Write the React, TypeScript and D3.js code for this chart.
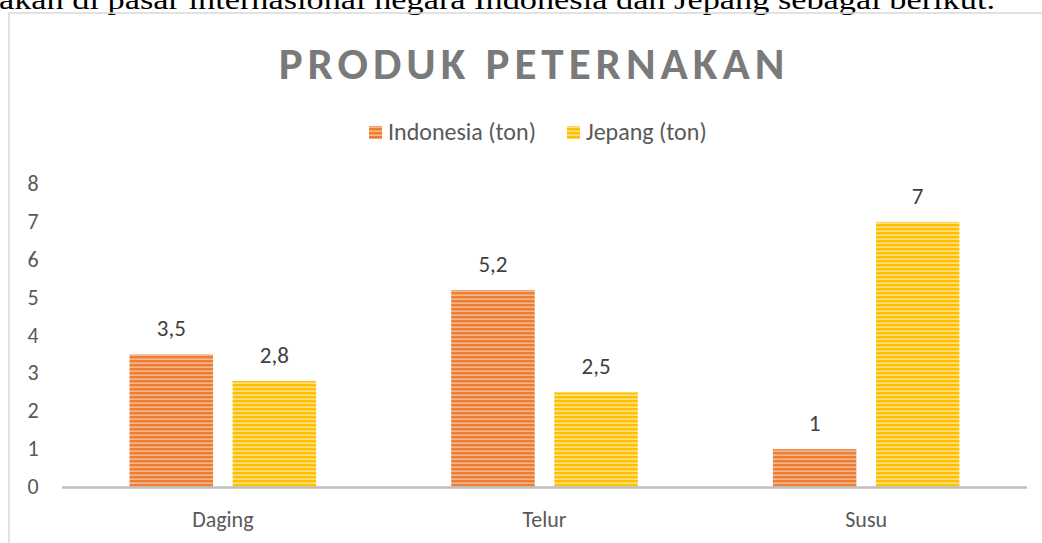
import React from "react";
import * as d3 from "d3";

const categories = ["Daging", "Telur", "Susu"];
const seriesNames = ["Indonesia (ton)", "Jepang (ton)"];
const indonesia = [3.5, 5.2, 1];
const jepang = [2.8, 2.5, 7];
const yTicks = [0, 1, 2, 3, 4, 5, 6, 7, 8];

const W = 1042;
const H = 543;

export default function App() {
  const x = d3.scaleBand<string>().domain(categories).range([62, 1027]).paddingInner(0.42).paddingOuter(0.21);
  const x1 = d3.scaleBand<string>().domain(seriesNames).range([0, x.bandwidth()]).paddingInner(0.19);
  const y = d3.scaleLinear().domain([0, 8]).range([487, 184]);
  const series = [
    { name: seriesNames[0], values: indonesia, pat: "pOrange" },
    { name: seriesNames[1], values: jepang, pat: "pYellow" },
  ];
  const fmt = (v: number) => String(v).replace(".", ",");
  const font = "Carlito, 'Open Sans', 'Liberation Sans', sans-serif";
  return (
    <div style={{ position: "absolute", left: 0, top: 0 }}>
      <svg width={W} height={H} style={{ display: "block", background: "#fff" }}>
        <defs>
          <pattern id="pOrange" width="6" height="4" patternUnits="userSpaceOnUse">
            <rect width="6" height="4" fill="#F6B78F" />
            <rect width="6" height="2.4" fill="#ED7D31" />
          </pattern>
          <pattern id="pYellow" width="6" height="4" patternUnits="userSpaceOnUse">
            <rect width="6" height="4" fill="#FFE08A" />
            <rect width="6" height="2.4" fill="#FFC000" />
          </pattern>
        </defs>
        <text x={-1} y={9} fontFamily="'Liberation Serif', serif" fontSize={28} fill="#000" textLength={996} lengthAdjust="spacingAndGlyphs">
          akan di pasar internasional negara Indonesia dan Jepang sebagai berikut.
        </text>
        <rect x={9} y={13} width={1100} height={600} fill="none" stroke="#d9d9d9" strokeWidth={1.5} />
        <text x={534} y={79} textAnchor="middle" fontFamily={font} fontWeight="bold" fontSize={45} fill="#7a7a7a" letterSpacing={5}>
          PRODUK PETERNAKAN
        </text>
        {/* legend */}
        <g fontFamily={font} fontSize={24} fill="#595959">
          <rect x={369} y={126} width={13} height={13} fill="url(#pOrange)" />
          <text x={388} y={140}>{seriesNames[0]}</text>
          <rect x={567} y={126} width={13} height={13} fill="url(#pYellow)" />
          <text x={586} y={140}>{seriesNames[1]}</text>
        </g>
        {/* y ticks */}
        <g fontFamily={font} fontSize={22} fill="#595959">
          {yTicks.map((t) => (
            <text key={t} x={33} y={y(t) + 7} textAnchor="middle">{t}</text>
          ))}
        </g>
        {/* bars */}
        {categories.map((c, i) => (
          <g key={c} transform={`translate(${x(c)},0)`}>
            {series.map((s) => {
              const v = s.values[i];
              const bx = x1(s.name)!;
              return (
                <g key={s.name}>
                  <rect x={bx} y={y(v)} width={x1.bandwidth()} height={y(0) - y(v)} fill={`url(#${s.pat})`} />
                  <text x={bx + x1.bandwidth() / 2} y={y(v) - 18} textAnchor="middle" fontFamily={font} fontSize={23} fill="#404040">
                    {fmt(v)}
                  </text>
                </g>
              );
            })}
          </g>
        ))}
        <line x1={62} x2={1027} y1={487.5} y2={487.5} stroke="#bfbfbf" strokeWidth={2.5} />
        <g fontFamily={font} fontSize={22} fill="#595959">
          {categories.map((c) => (
            <text key={c} x={x(c)! + x.bandwidth() / 2} y={527} textAnchor="middle">{c}</text>
          ))}
        </g>
      </svg>
    </div>
  );
}
